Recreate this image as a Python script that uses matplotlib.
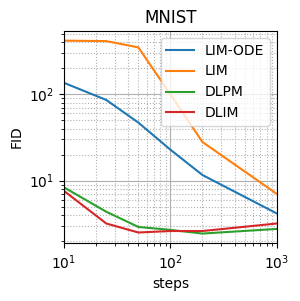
import numpy as np
import matplotlib
matplotlib.use('Agg')
import matplotlib.pyplot as plt

steps = [10, 25, 50, 100, 200, 1000]
fid_lim_ode = [136, 86, 47, 22.8, 11.6, 4.15]
fid_lim = [419, 414, 350, 100, 28, 7.0]
fid_dlpm = [8.35, 4.35, 2.9, 2.68, 2.43, 2.75]
fid_dlim = [7.6, 3.18, 2.5, 2.6, 2.6, 3.18]

fig = plt.figure(figsize=(3.0, 3.01), dpi=100)
ax = fig.add_axes([0.213, 0.192, 0.71, 0.705])

ax.plot(steps, fid_lim_ode, label='LIM-ODE')
ax.plot(steps, fid_lim, label='LIM')
ax.plot(steps, fid_dlpm, label='DLPM')
ax.plot(steps, fid_dlim, label='DLIM')

ax.set_xscale('log')
ax.set_yscale('log')
ax.set_xlim(10, 1000)
ax.grid(True, which='major', color='#b0b0b0', linewidth=0.8)
ax.grid(True, which='minor', color='#b0b0b0', linestyle=':', linewidth=0.8)
ax.set_title('MNIST')
ax.set_xlabel('steps')
ax.set_ylabel('FID')
ax.legend(loc='upper right')

plt.savefig('out.png', dpi=100)
plt.close(fig)
